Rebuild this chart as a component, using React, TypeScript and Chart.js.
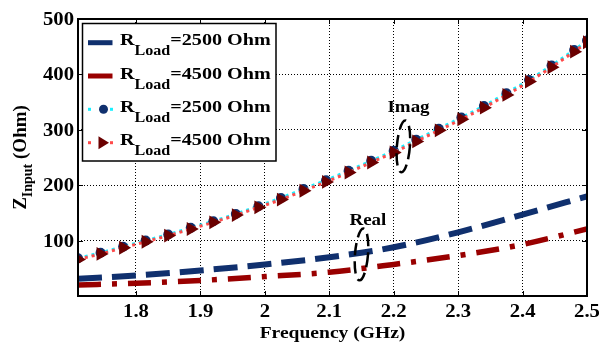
import React, { useEffect, useRef } from "react";
import { Chart, registerables } from "chart.js";
Chart.register(...registerables);

// ---- data ----
const FREQ_IMAG = [1.71, 1.745, 1.78, 1.815, 1.85, 1.885, 1.92, 1.955, 1.99, 2.025, 2.06, 2.095, 2.13, 2.165, 2.2, 2.235, 2.27, 2.305, 2.34, 2.375, 2.41, 2.445, 2.48, 2.5];
const IMAG_2500 = [68, 78, 89, 100, 111, 123, 135, 148, 162, 177, 193, 209, 226, 244, 262, 282, 302, 322, 343, 366, 390, 416, 444, 461];
const IMAG_4500 = [66, 76, 87, 98, 109, 121, 133, 146, 160, 174, 190, 206, 223, 241, 259, 279, 299, 319, 340, 363, 387, 413, 441, 458];
const FREQ_REAL = [1.71, 1.8, 1.9, 2.0, 2.1, 2.2, 2.3, 2.4, 2.5];
const REAL_2500 = [31, 37, 46, 57, 70, 88, 115, 147, 180];
const REAL_4500 = [20, 23, 28, 35, 43, 57, 73, 93, 121];
const X_TICKS = [1.8, 1.9, 2.0, 2.1, 2.2, 2.3, 2.4, 2.5];
const X_TICK_LABELS = ["1.8", "1.9", "2", "2.1", "2.2", "2.3", "2.4", "2.5"];
const Y_TICKS = [100, 200, 300, 400, 500];
const Y_TICK_LABELS = ["100", "200", "300", "400", "500"];
const LEGEND_LABELS = ["=2500 Ohm", "=4500 Ohm", "=2500 Ohm", "=4500 Ohm"];
const X_MIN = 1.71, X_MAX = 2.5, Y_MIN = 0, Y_MAX = 500;

const NAVY = "#10306e";
const DARKRED = "#990000";
const MAROON = "#6a0000";
const CYAN = "#19f0ff";
const SALMON = "#ff4a4a";
const FONT = "'Liberation Serif', 'Times New Roman', serif";
const SX = 1.15;

function txt(ctx: CanvasRenderingContext2D, s: string, x: number, y: number, size: number, align: CanvasTextAlign = "left", sx = SX) {
  ctx.save();
  ctx.font = `bold ${size}px ${FONT}`;
  const w = ctx.measureText(s).width * sx;
  ctx.translate(x, y);
  ctx.scale(sx, 1);
  ctx.textAlign = align;
  ctx.textBaseline = "alphabetic";
  ctx.fillStyle = "#000";
  ctx.fillText(s, 0, 0);
  ctx.restore();
  return w;
}

const decor = {
  id: "decor",
  afterDatasetsDraw(chart: any) {
    const ctx: CanvasRenderingContext2D = chart.ctx;
    const a = chart.chartArea;
    const xs = chart.scales.x, ys = chart.scales.y;
    // frame
    ctx.save();
    ctx.strokeStyle = "#000";
    ctx.lineWidth = 2;
    ctx.strokeRect(a.left, a.top, a.right - a.left, a.bottom - a.top);
    ctx.lineWidth = 1;
    ctx.beginPath();
    X_TICKS.forEach((v) => {
      const p = Math.round(xs.getPixelForValue(v)) + 0.5;
      ctx.moveTo(p, a.top); ctx.lineTo(p, a.top + 5);
      ctx.moveTo(p, a.bottom); ctx.lineTo(p, a.bottom - 5);
    });
    Y_TICKS.forEach((v) => {
      const p = Math.round(ys.getPixelForValue(v)) + 0.5;
      ctx.moveTo(a.left, p); ctx.lineTo(a.left + 5, p);
      ctx.moveTo(a.right, p); ctx.lineTo(a.right - 5, p);
    });
    ctx.stroke();
    ctx.restore();

    // tick labels
    X_TICKS.forEach((v, i) => txt(ctx, X_TICK_LABELS[i], xs.getPixelForValue(v), a.bottom + 21, 18, "center"));
    Y_TICKS.forEach((v, i) => txt(ctx, Y_TICK_LABELS[i], a.left - 4, ys.getPixelForValue(v) + 6, 18, "right"));

    // x title
    txt(ctx, "Frequency (GHz)", (a.left + a.right) / 2, 338, 17, "center");

    // y title
    ctx.save();
    ctx.fillStyle = "#000";
    ctx.translate(26, (a.top + a.bottom) / 2);
    ctx.rotate(-Math.PI / 2);
    ctx.textBaseline = "alphabetic";
    ctx.textAlign = "left";
    ctx.font = `bold 19px ${FONT}`;
    const wZ = ctx.measureText("Z").width;
    const wO = ctx.measureText(" (Ohm)").width;
    ctx.font = `bold 14px ${FONT}`;
    const wI = ctx.measureText("Input").width;
    let x0 = -(wZ + wI + wO) / 2;
    ctx.font = `bold 19px ${FONT}`;
    ctx.fillText("Z", x0, 0);
    ctx.font = `bold 14px ${FONT}`;
    ctx.fillText("Input", x0 + wZ, 6);
    ctx.font = `bold 19px ${FONT}`;
    ctx.fillText(" (Ohm)", x0 + wZ + wI, 0);
    ctx.restore();

    // annotations
    const ell = (xv: number, yv: number) => {
      const cx = xs.getPixelForValue(xv), cy = ys.getPixelForValue(yv);
      ctx.save();
      ctx.strokeStyle = "#000";
      ctx.lineWidth = 2.5;
      ctx.setLineDash([12, 6]);
      ctx.beginPath();
      ctx.ellipse(cx, cy, 6.5, 26, 0.08, 0, Math.PI * 2);
      ctx.stroke();
      ctx.restore();
    };
    ell(2.215, 270);
    ell(2.15, 75);
    txt(ctx, "Imag", xs.getPixelForValue(2.223), ys.getPixelForValue(332), 16.5, "center");
    txt(ctx, "Real", xs.getPixelForValue(2.16), ys.getPixelForValue(128), 16.5, "center");

    // legend
    const lx = 82.5, ly = 23.5, lw = 193.5, lh = 137.5;
    ctx.save();
    ctx.fillStyle = "#fff";
    ctx.fillRect(lx, ly, lw, lh);
    ctx.strokeStyle = "#000";
    ctx.lineWidth = 1.5;
    ctx.strokeRect(lx, ly, lw, lh);
    ctx.restore();
    const rows = [42.7, 76, 109.3, 142.7];
    rows.forEach((ry, i) => {
      ctx.save();
      if (i < 2) {
        ctx.strokeStyle = i === 0 ? NAVY : DARKRED;
        ctx.lineWidth = 5;
        ctx.beginPath();
        ctx.moveTo(88, ry); ctx.lineTo(112.5, ry);
        ctx.stroke();
      } else {
        ctx.fillStyle = i === 2 ? CYAN : SALMON;
        ctx.fillRect(88, ry - 1.5, 3, 3);
        ctx.fillRect(110, ry - 1.5, 3, 3);
        if (i === 2) {
          ctx.fillStyle = NAVY;
          ctx.beginPath();
          ctx.arc(103.5, ry, 4.5, 0, Math.PI * 2);
          ctx.fill();
        } else {
          ctx.fillStyle = MAROON;
          ctx.beginPath();
          ctx.moveTo(109, ry);
          ctx.lineTo(98.5, ry - 6.5);
          ctx.lineTo(98.5, ry + 6.5);
          ctx.closePath();
          ctx.fill();
        }
      }
      ctx.restore();
      const base = ry + 2.5;
      let x = 120;
      x += txt(ctx, "R", x, base, 17.5);
      x += txt(ctx, "Load", x, base + 10, 14);
      txt(ctx, LEGEND_LABELS[i], x, base, 17.5);
    });
  },
};

export default function App() {
  const ref = useRef<HTMLCanvasElement>(null);
  useEffect(() => {
    const pts = (xs: number[], ys: number[]) => xs.map((x, i) => ({ x, y: ys[i] }));
    const chart = new Chart(ref.current!, {
      type: "line",
      data: {
        datasets: [
          {
            label: "Real 2500",
            data: pts(FREQ_REAL, REAL_2500),
            borderColor: NAVY,
            borderWidth: 6,
            borderDash: [24, 10],
            borderCapStyle: "butt",
            pointRadius: 0,
            cubicInterpolationMode: "monotone",
            order: 3,
          },
          {
            label: "Real 4500",
            data: pts(FREQ_REAL, REAL_4500),
            borderColor: DARKRED,
            borderWidth: 5.5,
            borderDash: [23, 11, 5, 11],
            borderCapStyle: "butt",
            pointRadius: 0,
            cubicInterpolationMode: "monotone",
            order: 2,
          },
          {
            label: "Imag 2500",
            data: pts(FREQ_IMAG, IMAG_2500),
            borderColor: CYAN,
            borderWidth: 3,
            borderDash: [3, 4],
            pointStyle: "circle",
            pointRadius: 5,
            pointBorderWidth: 0,
            pointBackgroundColor: NAVY,
            cubicInterpolationMode: "monotone",
            order: 1,
          },
          {
            label: "Imag 4500",
            data: pts(FREQ_IMAG, IMAG_4500),
            borderColor: SALMON,
            borderWidth: 3,
            borderDash: [3, 4],
            pointStyle: "triangle",
            pointRotation: 90,
            pointRadius: 8,
            pointBorderWidth: 0,
            pointBackgroundColor: MAROON,
            cubicInterpolationMode: "monotone",
            order: 0,
          },
        ],
      },
      options: {
        animation: false,
        responsive: false,
        devicePixelRatio: 1,
        events: [],
        layout: { padding: { top: 19, right: 12, left: 0, bottom: 0 }, autoPadding: false },
        plugins: { legend: { display: false }, tooltip: { enabled: false } },
        scales: {
          x: {
            type: "linear",
            min: X_MIN,
            max: X_MAX,
            afterBuildTicks: (s: any) => { s.ticks = X_TICKS.map((v) => ({ value: v })); },
            afterFit: (s: any) => { s.height = 47; },
            ticks: { display: false },
            grid: { color: "#000", lineWidth: 1, drawTicks: false },
            border: { display: false, dash: [1, 2] },
          },
          y: {
            type: "linear",
            min: Y_MIN,
            max: Y_MAX,
            afterBuildTicks: (s: any) => { s.ticks = Y_TICKS.map((v) => ({ value: v })); },
            afterFit: (s: any) => { s.width = 78; },
            ticks: { display: false },
            grid: { color: "#000", lineWidth: 1, drawTicks: false },
            border: { display: false, dash: [1, 2] },
          },
        },
      },
      plugins: [decor],
    } as any);
    return () => chart.destroy();
  }, []);
  return (
    <div style={{ position: "fixed", left: 0, top: 0, width: 599, height: 343, background: "#fff" }}>
      <canvas ref={ref} width={599} height={343} style={{ display: "block", width: "599px", height: "343px" }} />
    </div>
  );
}
